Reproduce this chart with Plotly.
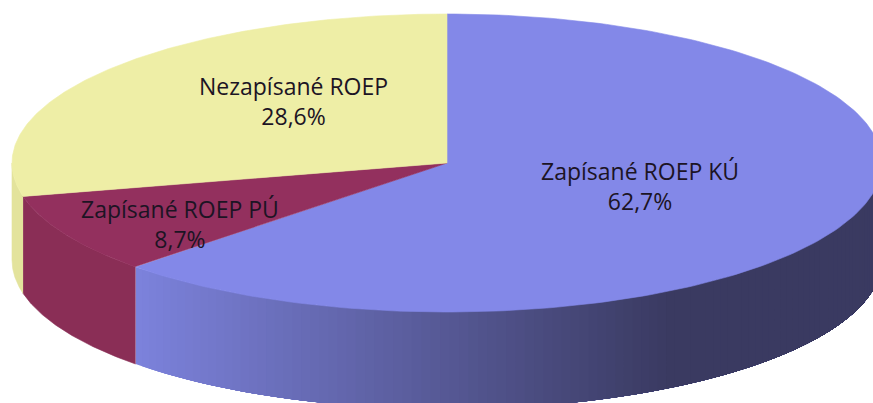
import numpy as np
import plotly.graph_objects as go

categories = ["Zapísané ROEP KÚ", "Zapísané ROEP PÚ", "Nezapísané ROEP"]
shares = [62.7, 8.7, 28.6]
top_colors = ["#8388E8", "#93305E", "#EEEEA6"]
side_colors = ["#7C82DC", "#8A2E56", "#E3E39C"]
label_pos = [(639.5, 186), (179.5, 224), (293, 101)]

CX, CY, RX, RY, DEPTH = 447, 163, 435, 149, 97
W, H = 873, 403


def rim(a):
    return CX + RX * np.sin(a), CY - RY * np.cos(a)


def mix(c1, c2, t):
    a = [int(c1[i:i + 2], 16) for i in (1, 3, 5)]
    b = [int(c2[i:i + 2], 16) for i in (1, 3, 5)]
    return "#%02X%02X%02X" % tuple(round(p + (q - p) * t) for p, q in zip(a, b))


def poly(fig, xs, ys, color, width=0.6):
    fig.add_trace(go.Scatter(x=xs, y=ys, mode="lines", fill="toself", fillcolor=color,
                             line=dict(color=color, width=width), hoverinfo="skip", showlegend=False))


fig = go.Figure()
edges = np.cumsum([0] + shares) / sum(shares) * 2 * np.pi

# Side wall (front half only)
for i in range(len(shares)):
    a0, a1 = max(edges[i], np.pi / 2), min(edges[i + 1], 3 * np.pi / 2)
    if a1 <= a0:
        continue
    if i == 0:
        # nested layers, each covering everything to its right, so no seams show
        cuts = np.linspace(a1, a0, 110)
        for u in cuts[:-1]:
            t = np.linspace(u, a0, 120)
            x, y = rim(t)
            t_col = min(1, max(0, (x[0] - 133) / (665 - 133)))
            col = mix(side_colors[0], "#3A3A61", t_col)
            poly(fig, np.r_[x, x[::-1]], np.r_[y, y[::-1] + DEPTH], col, 0)
    else:
        t = np.linspace(a0, a1, 80)
        x, y = rim(t)
        poly(fig, np.r_[x, x[::-1]], np.r_[y, y[::-1] + DEPTH], side_colors[i])

# Top face
for i in range(len(shares)):
    t = np.linspace(edges[i], edges[i + 1], 200)
    x, y = rim(t)
    poly(fig, np.r_[CX, x, CX], np.r_[CY, y, CY], top_colors[i])

for name, val, (lx, ly) in zip(categories, shares, label_pos):
    fig.add_annotation(x=lx, y=ly, xref="x", yref="y", showarrow=False, align="center",
                       text=f"{name}<br>{val:.1f}%".replace(".", ","),
                       font=dict(family="Open Sans", size=23, color="#1C1424"))

fig.update_layout(width=W, height=H, autosize=False, margin=dict(l=0, r=0, t=0, b=0),
                  paper_bgcolor="white", plot_bgcolor="white", showlegend=False,
                  xaxis=dict(range=[0, W], visible=False, fixedrange=True),
                  yaxis=dict(range=[H, 0], visible=False, fixedrange=True))
fig.write_html("out.html", config={"displayModeBar": False}, default_width=W, default_height=H,
               post_script="document.body.style.margin='0';document.documentElement.style.overflow='hidden';")
